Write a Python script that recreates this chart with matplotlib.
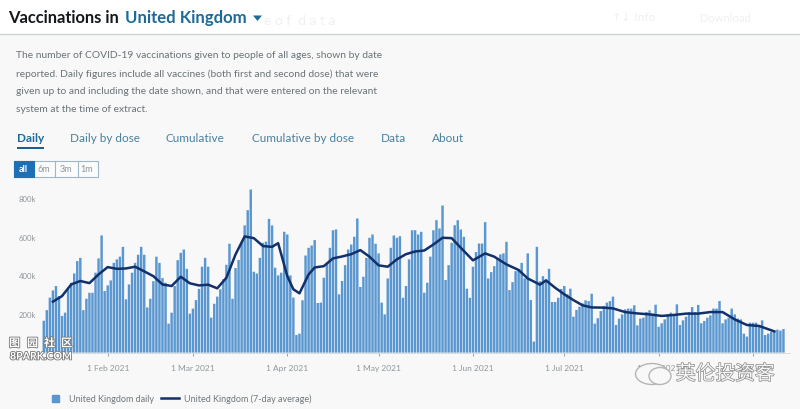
import matplotlib
matplotlib.use("Agg")
import matplotlib.pyplot as plt
import matplotlib.dates as mdates
import matplotlib.patheffects as pe
from matplotlib.patches import Rectangle, Ellipse, Polygon, Patch
from matplotlib.legend_handler import HandlerPatch
from matplotlib.lines import Line2D
import pandas as pd

plt.rcParams['font.family'] = ['Lato', 'Noto Sans CJK SC', 'DejaVu Sans']

# daily vaccinations, thousands
jan = [165,220,285,322,345,293,190,207,328,362,410,474,491,220,279,310,310,414,488,607,319]
feb = [348,374,465,483,497,548,276,353,414,465,507,548,507,234,279,370,497,465,386,362,150,207,345,479,517,534,434,202]
mar = [228,272,330,445,491,445,181,253,290,328,380,455,564,279,438,480,570,659,738,845,419,410,491,569,575,693,659,440,400,414,626]
apr = [612,400,285,91,98,271,503,543,555,583,257,259,388,460,543,634,638,302,371,453,534,560,600,695,340,393,491,595,612,564]
may = [514,259,198,384,543,607,595,603,284,345,483,634,634,612,626,310,362,497,634,686,643,762,376,453,569,660,686,638,600,331,284]
jun = [445,521,565,565,676,384,417,448,490,509,514,574,324,365,422,432,465,385,514,272,57,548,370,396,379,434,262,262,284,330]
jul = [345,302,331,186,221,238,255,271,267,305,150,178,215,241,259,267,290,143,176,198,224,228,228,245,141,176,181,210,219,202,248]
aug = [134,152,172,198,207,200,250,143,167,186,210,236,210,247,152,164,181,193,228,228,267,152,172,181,228,198,176,172,98,83,155]
sep = [155,155,141,167,91,98,107,112,119,114,122]
daily = jan + feb + mar + apr + may + jun + jul + aug + sep
daily_dates = pd.date_range("2021-01-11", periods=len(daily))

avg_dates = pd.to_datetime([
    "2021-01-14","2021-01-17","2021-01-20","2021-01-23","2021-01-26","2021-01-29","2021-02-01","2021-02-04",
    "2021-02-07","2021-02-10","2021-02-13","2021-02-16","2021-02-19","2021-02-22","2021-02-25","2021-02-28",
    "2021-03-03","2021-03-06","2021-03-09","2021-03-12","2021-03-15","2021-03-18","2021-03-21","2021-03-24",
    "2021-03-27","2021-03-29","2021-04-01","2021-04-03","2021-04-05","2021-04-08","2021-04-10","2021-04-13",
    "2021-04-16","2021-04-19","2021-04-22","2021-04-25","2021-04-28","2021-05-01","2021-05-04","2021-05-07",
    "2021-05-10","2021-05-13","2021-05-16","2021-05-19","2021-05-22","2021-05-25","2021-05-28","2021-06-01",
    "2021-06-05","2021-06-08","2021-06-12","2021-06-16","2021-06-19","2021-06-23","2021-06-25","2021-06-28",
    "2021-07-01","2021-07-04","2021-07-07","2021-07-10","2021-07-14","2021-07-17","2021-07-21","2021-07-25",
    "2021-07-29","2021-08-02","2021-08-06","2021-08-10","2021-08-14","2021-08-18","2021-08-22","2021-08-26",
    "2021-08-30","2021-09-03","2021-09-08"])
avg = [264,293,353,371,360,405,443,434,436,445,421,396,353,345,393,359,348,352,333,388,509,602,593,552,
       548,567,396,328,307,405,441,448,488,498,510,531,497,452,445,483,510,524,529,560,595,593,543,478,
       514,497,457,428,384,352,374,336,302,272,245,234,233,229,210,203,198,190,195,202,202,210,210,172,143,138,110]

tick_dates = pd.to_datetime(["2021-02-01","2021-03-01","2021-04-01","2021-05-01","2021-06-01","2021-07-01","2021-08-01","2021-09-01"])
tick_labels = ["1 Feb 2021","1 Mar 2021","1 Apr 2021","1 May 2021","1 Jun 2021","1 Jul 2021","1 Aug 2021","1 Sep 2021"]
y_ticks = [200, 400, 600, 800]
y_labels = ["200k","400k","600k","800k"]

BG = "#f8f8f8"; BAR = "#5a97d0"; LINE = "#12306a"; GREY = "#6a7378"; LIGHT = "#8f979b"

W, H = 800, 410
fig = plt.figure(figsize=(W/100, H/100), dpi=100, facecolor=BG)

# pixel-layout overlay
ov = fig.add_axes([0, 0, 1, 1], zorder=0)
ov.set_xlim(0, W); ov.set_ylim(H, 0); ov.axis("off")
ov.add_patch(Rectangle((0, 0), W, 35, fc="white", ec="none"))
ov.add_line(Line2D([0, W], [35, 35], color="#cfd2d4", lw=1))
ov.text(8, 18, "Vaccinations in", fontsize=11.9, fontweight="bold", color="#14181b", va="center")
ov.text(125, 18, "United Kingdom", fontsize=12.1, fontweight="bold", color="#1f6a98", va="center")
ov.add_patch(Polygon([(253, 16.5), (262, 16.5), (257.5, 22)], closed=True, fc="#1f6a98", ec="none"))
ov.text(264, 21, "e o f  d a t a", fontsize=10, color="#f0f0f0", va="center")
ov.text(612, 18, "\u2191\u2193 Info", fontsize=8, color="#f0f0f0", va="center", family="DejaVu Sans")
ov.text(700, 18, "Download", fontsize=8, color="#f0f0f0", va="center")

desc = ["The number of COVID-19 vaccinations given to people of all ages, shown by date",
        "reported. Daily figures include all vaccines (both first and second dose) that were",
        "given up to and including the date shown, and that were entered on the relevant",
        "system at the time of extract."]
for y, s in zip([56, 74, 91.5, 109], desc):
    ov.text(16.5, y, s, fontsize=7.38, color=GREY, va="center")

tabs = [("Daily", 16.5), ("Daily by dose", 70), ("Cumulative", 165), ("Cumulative by dose", 251.5), ("Data", 381), ("About", 432)]
for i, (s, x) in enumerate(tabs):
    ov.text(x, 139, s, fontsize=8.5, color="#1f6a98" if i == 0 else "#4a7f9f",
            fontweight="bold" if i == 0 else "normal", va="center")
ov.add_patch(Rectangle((16.5, 148), 27.5, 1.8, fc="#1f5f8f", ec="none"))

ov.add_patch(Rectangle((14, 162), 83.5, 15.5, fc="#fbfbfb", ec="#9fb6c6", lw=0.8))
ov.add_patch(Rectangle((14, 162), 19.5, 15.5, fc="#1f6fb5", ec="#1f6fb5", lw=0.8))
for x in [55, 77.5]:
    ov.add_line(Line2D([x, x], [162, 177.5], color="#9fb6c6", lw=0.8))
for s, x, c in [("all", 23.5, "white"), ("6m", 44, LIGHT), ("3m", 66, LIGHT), ("1m", 87, LIGHT)]:
    ov.text(x, 170, s, fontsize=6.5, color=c, ha="center", va="center", fontweight="bold" if s == "all" else "normal")

# chart
px_per_day = (753 - 107.7) / 212
feb1 = mdates.date2num(pd.Timestamp("2021-02-01"))
L, R, T, B = 36, 790, 185, 353.6
ax = fig.add_axes([L/W, 1 - B/H, (R-L)/W, (B-T)/H], zorder=1)
ax.patch.set_alpha(0)
bars = ax.bar(daily_dates, daily, width=0.8, color=BAR, edgecolor="none", label="United Kingdom daily")
for b in bars:
    b.set_snap(False)
line, = ax.plot(avg_dates, avg, color=LINE, lw=1.8, solid_joinstyle="round", label="United Kingdom (7-day average)")
ax.set_xlim(feb1 + (L - 107.7) / px_per_day, feb1 + (R - 107.7) / px_per_day)
ax.set_ylim(0, (B - T) / 38.6 * 200)
for s in ["top", "left", "right"]:
    ax.spines[s].set_visible(False)
ax.spines["bottom"].set_color("#d5d8da"); ax.spines["bottom"].set_linewidth(0.6)
ax.set_xticks(tick_dates); ax.set_xticklabels(tick_labels)
ax.set_yticks(y_ticks); ax.set_yticklabels(y_labels)
ax.tick_params(axis="x", length=2.5, width=0.7, color="#9aa0a4", labelsize=6.0, labelcolor=LIGHT, pad=5.5)
ax.tick_params(axis="y", length=0, labelsize=5.6, labelcolor=LIGHT, pad=0)


def square(legend, orig_handle, xdescent, ydescent, width, height, fontsize):
    side = 5.0  # points
    return Rectangle((width - side - 3.0, (height - side) / 2), side, side)


proxy = Patch(color=BAR)
ax.legend([proxy, line], ["United Kingdom daily", "United Kingdom (7-day average)"],
          loc="lower left", bbox_to_anchor=((43-L)/(R-L), -(407-B)/(B-T)), ncol=2, frameon=False,
          fontsize=6.45, labelcolor="#70787c", handlelength=2.0, columnspacing=0.75,
          handletextpad=0.6, borderaxespad=0, borderpad=0.3,
          handler_map={proxy: HandlerPatch(patch_func=square)})

# watermarks, part of the source image
top = fig.add_axes([0, 0, 1, 1], zorder=2)
top.set_xlim(0, W); top.set_ylim(H, 0); top.axis("off")
stroke = [pe.withStroke(linewidth=1.2, foreground="#777777")]
for s, x in zip("图园社区", [9, 27, 44, 61]):
    top.text(x, 344, s, fontsize=8, color="white", va="center", fontweight="bold", path_effects=stroke)
top.text(10, 357, "8PARK.COM", fontsize=7.6, color="white", va="center", fontweight="bold", path_effects=stroke)
top.add_patch(Ellipse((652, 375), 33, 21, fc=BG, ec="#b5b5b5", lw=1))
top.add_patch(Ellipse((660, 377), 22, 17, fc=BG, ec="#b5b5b5", lw=1))
top.text(676, 374, "英伦投资客", fontsize=14.2, color="#f6f6f6", va="center",
         path_effects=[pe.withStroke(linewidth=1.0, foreground="#8a8a8a")])

fig.savefig("out.png", dpi=100, facecolor=BG)
